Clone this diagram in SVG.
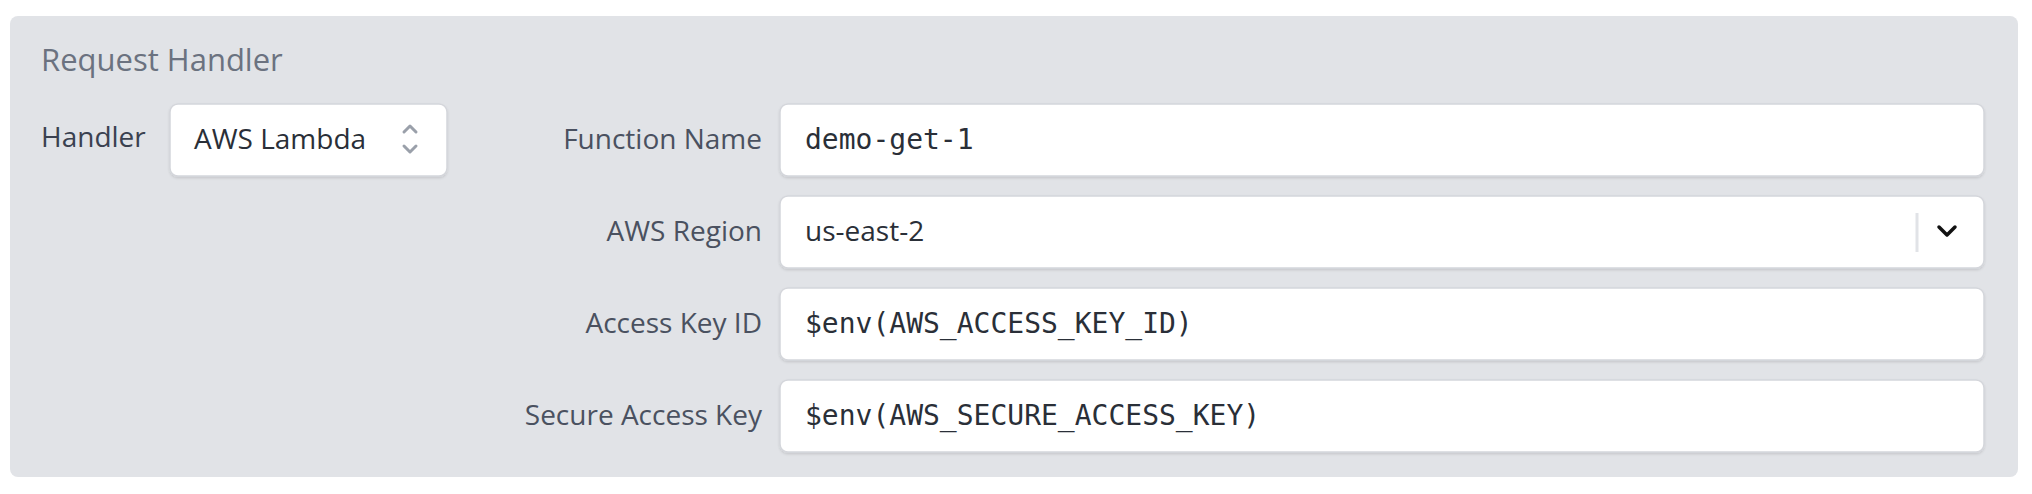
<svg xmlns="http://www.w3.org/2000/svg" width="2032" height="494" viewBox="0 0 2032 494">
<style>
.lbl{font-family:"Open Sans","Liberation Sans",sans-serif;font-size:28px;fill:#3a4150}
.lblr{font-family:"Open Sans","Liberation Sans",sans-serif;font-size:28px;fill:#4a5160;text-anchor:end}
.val{font-family:"DejaVu Sans Mono","Liberation Mono",monospace;font-size:28px;fill:#2a2f38}
.sval{font-family:"Open Sans","Liberation Sans",sans-serif;font-size:28px;fill:#2a2f38}
.box{fill:#fff;stroke:#d4d6db;stroke-width:1.5}
</style>
<defs><filter id="sh" x="-5%" y="-10%" width="110%" height="130%"><feDropShadow dx="0" dy="1.5" stdDeviation="1.2" flood-color="#000" flood-opacity="0.12"/></filter></defs>
<rect x="10" y="16" width="2008" height="461" rx="8" fill="#e1e3e7"/>
<text x="41" y="71" font-family="Open Sans, Liberation Sans, sans-serif" font-size="31" fill="#6b7280">Request Handler</text>
<g id="handler">
<text class="lbl" x="41" y="147">Handler</text>
<rect class="box" filter="url(#sh)" x="170" y="104" width="277" height="72" rx="8"/>
<text class="sval" x="194" y="149">AWS Lambda</text>
<path d="M404 132 L410 126 L416 132 M404 146 L410 152 L416 146" fill="none" stroke="#9aa0aa" stroke-width="3" stroke-linecap="round" stroke-linejoin="round"/>
</g>
<g id="function-name">
<text class="lblr" x="762" y="149">Function Name</text>
<rect class="box" filter="url(#sh)" x="780" y="104" width="1204" height="72" rx="8"/>
<text class="val" x="805" y="149">demo-get-1</text>
</g>
<g id="aws-region">
<text class="lblr" x="762" y="241">AWS Region</text>
<rect class="box" filter="url(#sh)" x="780" y="196" width="1204" height="72" rx="8"/>
<text class="sval" x="805" y="241">us-east-2</text>
<line x1="1917" y1="213" x2="1917" y2="252" stroke="#e1e3e7" stroke-width="3"/>
<path d="M1939 227 L1947 235 L1955 227" fill="none" stroke="#111" stroke-width="3.5" stroke-linecap="round" stroke-linejoin="round"/>
</g>
<g id="access-key">
<text class="lblr" x="762" y="333">Access Key ID</text>
<rect class="box" filter="url(#sh)" x="780" y="288" width="1204" height="72" rx="8"/>
<text class="val" x="805" y="333">$env(AWS_ACCESS_KEY_ID)</text>
</g>
<g id="secure-key">
<text class="lblr" x="762" y="425">Secure Access Key</text>
<rect class="box" filter="url(#sh)" x="780" y="380" width="1204" height="72" rx="8"/>
<text class="val" x="805" y="425">$env(AWS_SECURE_ACCESS_KEY)</text>
</g>
<g id="connectors"/>
</svg>
